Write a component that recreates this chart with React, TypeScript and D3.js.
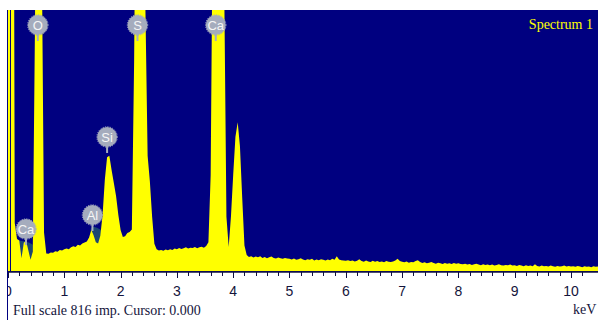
import React from "react";
import * as d3 from "d3";

// Spectrum channels: energy = index * STEP (keV)
const STEP = 0.04;
const counts: number[] = [
  // 0.00 - 0.96
  3000, 3000, 3000, 150, 100, 95, 40, 88, 95, 66, 35, 60, 780, 2500, 2200, 1000, 120, 55, 54, 58, 57, 62, 60, 66, 64,
  // 1.00 - 1.96
  68, 70, 68, 74, 77, 75, 82, 80, 86, 89, 92, 105, 128, 112, 90, 86, 110, 175, 285, 356, 360, 316, 275, 234, 175,
  // 2.00 - 2.96
  128, 106, 109, 119, 122, 130, 650, 1500, 1900, 1700, 1200, 830, 360, 280, 170, 85, 68, 64, 66, 63, 67, 65, 68, 66, 70,
  // 3.00 - 3.96
  68, 72, 69, 71, 74, 70, 73, 72, 75, 71, 74, 76, 73, 78, 90, 300, 1200, 2200, 3000, 3000, 2200, 900, 170, 75, 170,
  // 4.00 - 4.96
  300, 420, 465, 390, 230, 80, 50, 44, 46, 42, 45, 43, 46, 41, 44, 40, 43, 45, 41, 39, 42, 40, 38, 41, 39,
  // 5.00 - 5.96
  38, 36, 39, 35, 37, 40, 36, 34, 37, 35, 38, 33, 36, 34, 37, 35, 33, 36, 34, 38, 35, 46, 36, 34, 33,
  // 6.00 - 6.96
  32, 34, 31, 33, 30, 32, 37, 31, 29, 33, 30, 28, 32, 29, 31, 28, 30, 27, 31, 29, 28, 30, 33, 38, 31,
  // 7.00 - 7.96
  29, 27, 30, 26, 28, 27, 31, 34, 28, 25, 27, 24, 26, 28, 25, 23, 26, 24, 22, 25, 23, 24, 22, 25, 23,
  // 8.00 - 8.96
  24, 22, 21, 23, 20, 22, 19, 21, 23, 20, 18, 21, 19, 20, 18, 20, 17, 19, 21, 18, 17, 19, 18, 20, 17,
  // 9.00 - 9.96
  18, 16, 19, 17, 15, 18, 16, 17, 15, 21, 16, 14, 17, 15, 16, 14, 17, 15, 13, 16, 14, 15, 17, 14, 16,
  // 10.00 - 10.52
  14, 15, 13, 16, 14, 12, 15, 13, 14, 12, 15, 13, 14, 13,
];

// Peak-marker (fit) regions
const caLFitE = [0.17, 0.24, 0.31, 0.38, 0.44];
const caLFitC = [96, 94, 92, 88, 82];
const alFitE = [1.47, 1.52, 1.58, 1.64, 1.66];
const alFitC = [132, 138, 135, 130, 124];

// Element labels
const labelNames = ["O", "S", "Ca", "Si", "Al", "Ca"];
const labelEnergies = [0.53, 2.3, 3.69, 1.76, 1.5, 0.32];
const labelCounts = [769, 769, 769, 419, 175, 131];

const xTicks = [0, 1, 2, 3, 4, 5, 6, 7, 8, 9, 10];
const fullScale = 816;
const spectrumName = "Spectrum 1";

const W = 598;
const H = 320;
const L = 8;
const T = 10;
const B = 271;

export default function App() {
  const x = d3.scaleLinear().domain([0, 10.48]).range([L, W]);
  const y = d3.scaleLinear().domain([0, fullScale]).range([B, T]);

  const pts: [number, number][] = counts.map((c, i) => [i * STEP, c]);
  const area = d3
    .area<[number, number]>()
    .x((d) => x(d[0]))
    .y0(B)
    .y1((d) => y(d[1]));

  const fitArea = (es: number[], cs: number[]) =>
    area(es.map((e, i) => [e, cs[i]] as [number, number])) || "";

  const minorTicks = d3.range(0, 52).map((i) => i * 0.2);

  return (
    <svg
      width={W}
      height={H}
      style={{ position: "fixed", left: 0, top: 0, background: "#fff" }}
    >
      <defs>
        <clipPath id="plot">
          <rect x={L} y={T} width={W - L} height={B - T + 1} />
        </clipPath>
        <clipPath id="ticksClip">
          <rect x={L} y={B} width={W - L} height={40} />
        </clipPath>
      </defs>
      <rect x={L} y={T} width={W - L} height={B - T + 1} fill="#000080" />
      <g clipPath="url(#plot)">
        <path d={fitArea(caLFitE, caLFitC)} fill="#1b4673" />
        <path d={fitArea(alFitE, alFitC)} fill="#1b4673" />
        <path d={area(pts) || ""} fill="#ffff00" />
      </g>
      {/* y axis line inside zero peak */}
      <line x1={10.5} x2={10.5} y1={T} y2={B} stroke="#000080" strokeWidth={1} />
      {/* left frame */}
      <line x1={7.5} x2={7.5} y1={T} y2={H} stroke="#000080" strokeWidth={1} />
      {/* x axis */}
      <line x1={L} x2={W} y1={B + 1} y2={B + 1} stroke="#101040" strokeWidth={1.5} />
      {minorTicks.map((t, i) => {
        const major = i % 5 === 0;
        return (
          <line
            key={i}
            x1={Math.round(x(t)) + 0.5}
            x2={Math.round(x(t)) + 0.5}
            y1={B + 1}
            y2={B + (major ? 7 : 5)}
            stroke="#101040"
            strokeWidth={1}
          />
        );
      })}
      <g clipPath="url(#ticksClip)">
        {xTicks.map((t) => (
          <text
            key={t}
            x={x(t)}
            y={296}
            textAnchor="middle"
            fontFamily="'Liberation Sans', Arial, sans-serif"
            fontSize={14}
            fill="#14143c"
          >
            {t}
          </text>
        ))}
      </g>
      {labelNames.map((n, i) => {
        const cx = x(labelEnergies[i]);
        const cy = y(labelCounts[i]);
        return (
          <g key={i}>
            <line x1={cx} x2={cx} y1={cy + 9} y2={cy + 16} stroke="#a5acbd" strokeWidth={2} />
            <circle cx={cx} cy={cy} r={10} fill="#a5acbd" />
            <circle
              cx={cx}
              cy={cy}
              r={10.2}
              fill="none"
              stroke="#a5acbd"
              strokeWidth={1}
              strokeDasharray="1.2 1.2"
            />
            <text
              x={cx}
              y={cy}
              dy="0.36em"
              textAnchor="middle"
              fontFamily="'Liberation Sans', Arial, sans-serif"
              fontSize={13}
              fill="#f6f6f6"
            >
              {n}
            </text>
          </g>
        );
      })}
      <text
        x={593}
        y={29}
        textAnchor="end"
        fontFamily="'Liberation Serif', 'Times New Roman', serif"
        fontSize={14}
        fill="#ffff00"
      >
        {spectrumName}
      </text>
      <text
        x={13}
        y={315}
        fontFamily="'Liberation Serif', 'Times New Roman', serif"
        fontSize={14}
        fill="#14143c"
      >
        {`Full scale ${fullScale} imp. Cursor: 0.000`}
      </text>
      <text
        x={573}
        y={314}
        fontFamily="'Liberation Serif', 'Times New Roman', serif"
        fontSize={14}
        fill="#14143c"
      >
        keV
      </text>
    </svg>
  );
}
